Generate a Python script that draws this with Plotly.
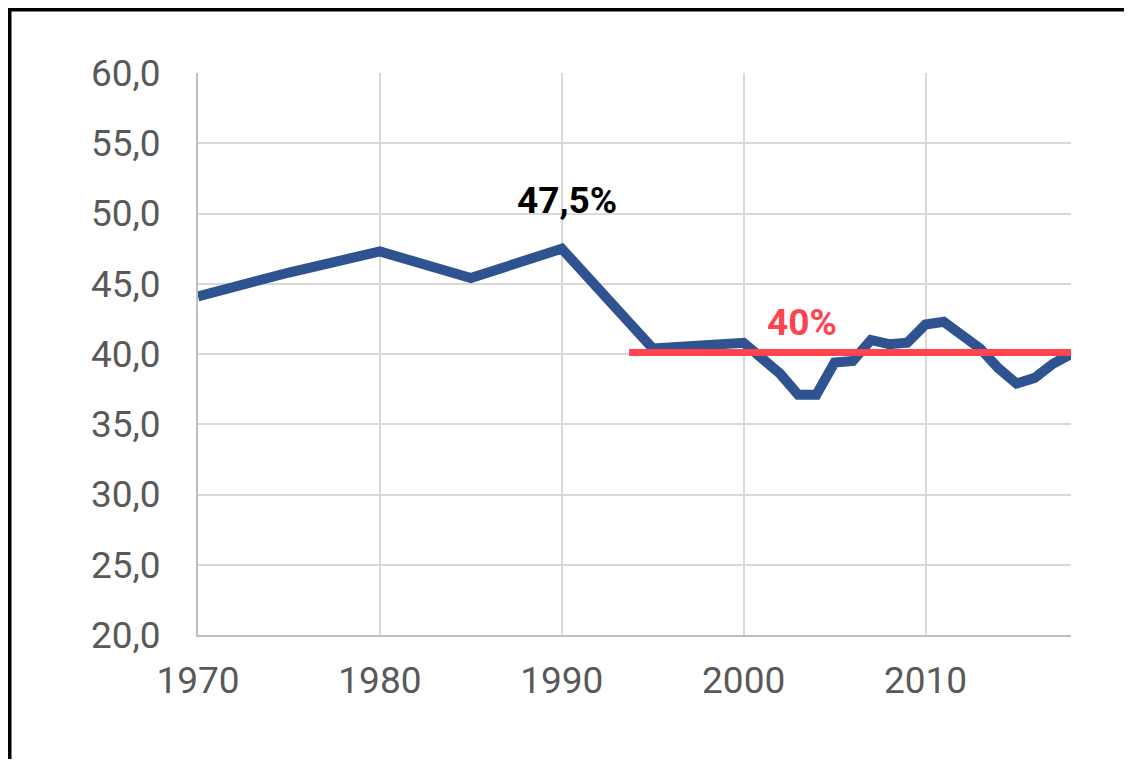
import plotly.graph_objects as go

years = [1970, 1975, 1980, 1985, 1990, 1995, 2000, 2001, 2002, 2003, 2004, 2005,
         2006, 2007, 2008, 2009, 2010, 2011, 2012, 2013, 2014, 2015, 2016, 2017, 2018]
share = [44.1, 45.8, 47.3, 45.4, 47.5, 40.4, 40.8, 39.7, 38.6, 37.1, 37.1, 39.4,
         39.5, 41.0, 40.7, 40.8, 42.1, 42.3, 41.4, 40.4, 39.0, 37.9, 38.3, 39.3, 40.0]

ref_x = [1993.7, 2018]
ref_y = [40.1, 40.1]

peak_label = "47,5%"
ref_label = "40%"

y_ticks = [20, 25, 30, 35, 40, 45, 50, 55, 60]
y_tick_text = ["20,0", "25,0", "30,0", "35,0", "40,0", "45,0", "50,0", "55,0", "60,0"]
x_ticks = [1970, 1980, 1990, 2000, 2010]

# page body has an 8px margin; figure sized to fit the window
W, H = 1116, 751
L, R, T, B = 190, 53, 65, 124
pw, ph = W - L - R, H - T - B

fig = go.Figure()
fig.add_trace(go.Scatter(x=years, y=share, mode="lines",
                         line=dict(color="#2F5290", width=10), hoverinfo="skip"))
fig.add_trace(go.Scatter(x=ref_x, y=ref_y, mode="lines",
                         line=dict(color="#FF444F", width=7), hoverinfo="skip"))

fig.add_annotation(x=years[share.index(max(share))], y=max(share), text=peak_label,
                   showarrow=False, yshift=48, xshift=5,
                   font=dict(family="Roboto", size=37, color="#000000", weight="bold"))
fig.add_annotation(x=2003.2, y=ref_y[0], text=ref_label,
                   showarrow=False, yshift=30,
                   font=dict(family="Roboto", size=37, color="#FF444F", weight="bold"))

# outer frame: only left and top edges are visible, kept inside the figure
fx = (1.5 - L) / pw
fy = 1 + (T - 1.5) / ph
fig.add_shape(type="line", xref="paper", yref="paper",
              x0=fx, x1=fx, y0=fy, y1=-(H - T - ph) / ph,
              line=dict(color="#000000", width=4))
fig.add_shape(type="line", xref="paper", yref="paper",
              x0=(-L) / pw, x1=1 + R / pw, y0=fy, y1=fy,
              line=dict(color="#000000", width=4))

fig.update_layout(
    width=W, height=H,
    margin=dict(l=L, r=R, t=T, b=B),
    paper_bgcolor="white", plot_bgcolor="white",
    showlegend=False,
    font=dict(family="Roboto", color="#595959", size=37),
)
fig.update_xaxes(range=[1970, 2018], tickvals=x_ticks, showgrid=True,
                 gridcolor="#D9D9D9", gridwidth=2, showline=True, linecolor="#BFBFBF",
                 linewidth=2, zeroline=False, ticks="", ticklabelstandoff=12,
                 tickfont=dict(size=37, color="#595959"))
fig.update_yaxes(range=[20, 60], tickvals=y_ticks, ticktext=y_tick_text, showgrid=True,
                 gridcolor="#D9D9D9", gridwidth=2, showline=True, linecolor="#BFBFBF",
                 linewidth=2, zeroline=False, ticks="", ticklabelstandoff=28,
                 tickfont=dict(size=37, color="#595959"))

fig.write_html("out.html")
